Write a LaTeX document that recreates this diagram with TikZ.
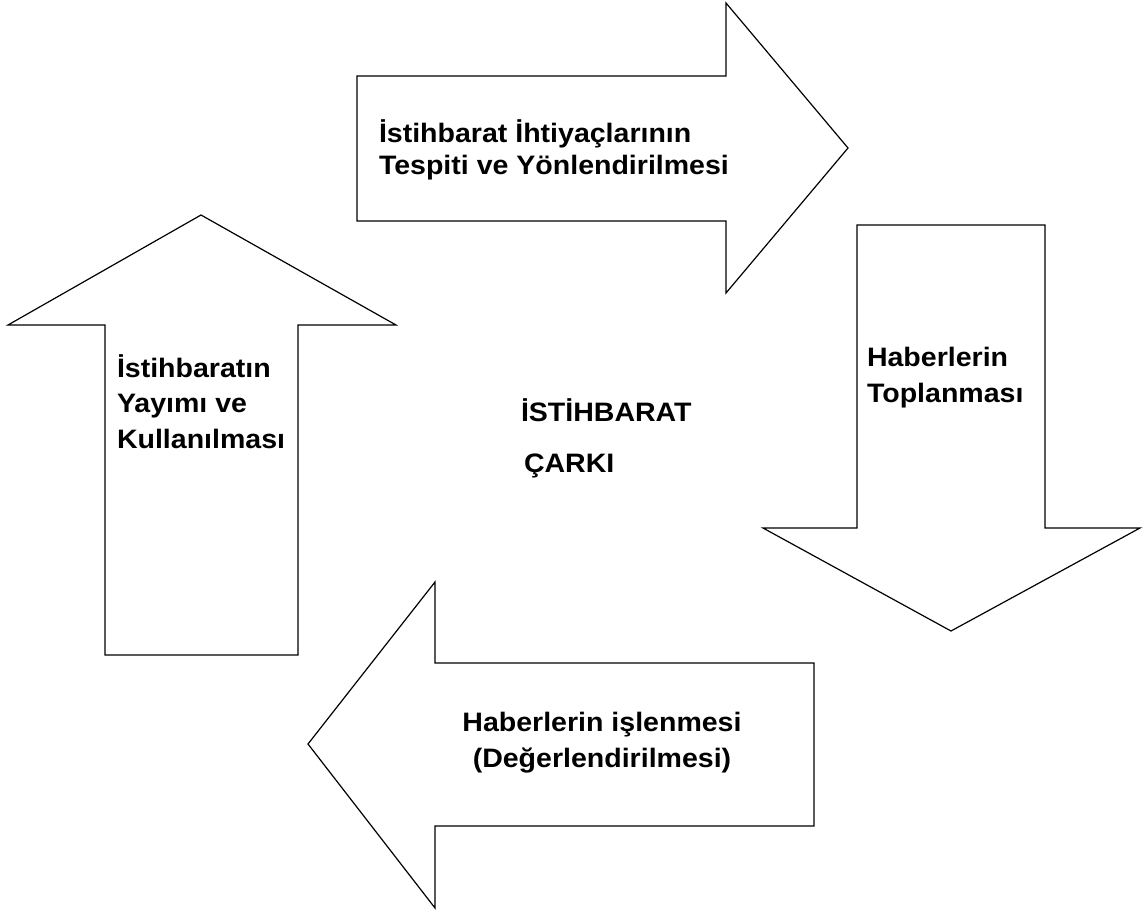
\documentclass[tikz,border=0pt]{standalone}
\usepackage{fontspec}
\setmainfont{Liberation Sans}
\begin{document}
\begin{tikzpicture}[x=0.75pt,y=-0.75pt,
  blockarrow/.style={draw=black,line width=0.9pt,line join=miter,fill=white},
  lbl/.style={inner sep=0pt,outer sep=0pt,font=\fontsize{20}{27}\selectfont\bfseries,xscale=1.07,transform shape}]
\useasboundingbox (0,0) rectangle (1145,916);
% top arrow (right-pointing)
\draw[blockarrow] (357,76) -- (726,76) -- (726,3) -- (848,148) -- (726,293) -- (726,221) -- (357,221) -- cycle;
% right arrow (down-pointing)
\draw[blockarrow] (857,225) -- (1045,225) -- (1045,528) -- (1140,528) -- (951,631) -- (763,528) -- (857,528) -- cycle;
% bottom arrow (left-pointing)
\draw[blockarrow] (814,663) -- (435,663) -- (435,582) -- (308,744) -- (435,908) -- (435,826) -- (814,826) -- cycle;
% left arrow (up-pointing)
\draw[blockarrow] (105,655) -- (105,325) -- (8,325) -- (201,215) -- (396,325) -- (298,325) -- (298,655) -- cycle;
% labels (anchored at the baseline of their last line)
\node[lbl,anchor=base west,align=left,font=\fontsize{20}{24.5}\selectfont\bfseries] (t1) at (379,175) {İstihbarat İhtiyaçlarının\\Tespiti ve Yönlendirilmesi};
\node[lbl,anchor=base west,align=left] (t2) at (867,402) {Haberlerin\\Toplanması};
\node[lbl,anchor=base,align=center] (t3) at (602,767) {Haberlerin işlenmesi\\(Değerlendirilmesi)};
\node[lbl,anchor=base west,align=left,font=\fontsize{20}{26.5}\selectfont\bfseries] (t4) at (117,448) {İstihbaratın\\Yayımı ve\\Kullanılması};
\node[lbl,anchor=base west] (c1) at (521,421) {İSTİHBARAT};
\node[lbl,anchor=base west] (c2) at (524,472) {ÇARKI};
\end{tikzpicture}
\end{document}
